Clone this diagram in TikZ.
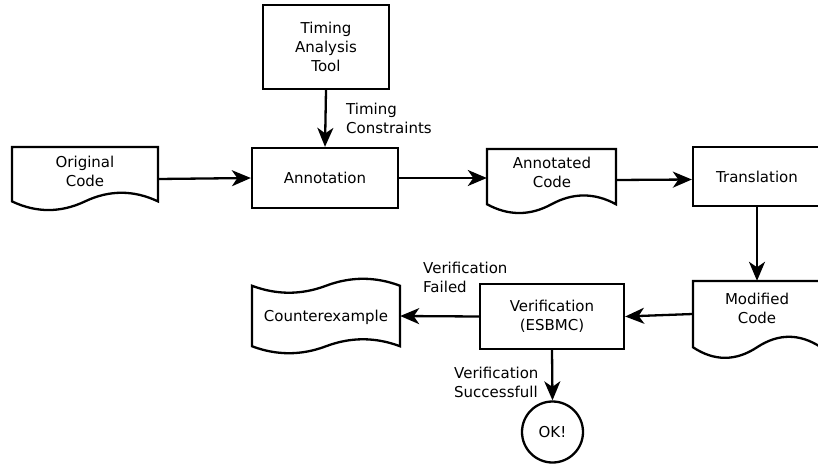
\documentclass[tikz,border=0pt]{standalone}
\usepackage{fontspec}
\setmainfont{DejaVu Sans}
\usetikzlibrary{arrows.meta,calc}
\tikzset{
 shp/.style={draw=black, line width=2.3pt, fill=white, line join=miter},
 boxnode/.style={shp, rectangle, inner sep=0pt, align=center, font=\fontsize{15}{19}\selectfont},
 outline/.style={rectangle, draw=none, inner sep=0pt},
 txt/.style={inner sep=0pt, align=center, font=\fontsize{15}{19}\selectfont},
 lbl/.style={inner sep=0pt, align=left, anchor=west, font=\fontsize{15}{19}\selectfont},
 arr/.style={line width=2.3pt, -{Stealth[length=19pt,width=16pt,inset=5.5pt]}},
}
% document shape: x0 y0 w h (dy = 0.3h)
\newcommand\docpath[4]{%
 \draw[shp] (#1,#2) -- ({#1+#3},#2) -- ({#1+#3},{#2+0.85*#4})
   .. controls ({#1+5*#3/6},{#2+0.67*#4}) and ({#1+2*#3/3},{#2+0.67*#4}) .. ({#1+#3/2},{#2+0.85*#4})
   .. controls ({#1+#3/3},{#2+1.03*#4}) and ({#1+#3/6},{#2+1.03*#4}) .. (#1,{#2+0.85*#4}) -- cycle;}
% tape shape: x0 y0 w h dy
\newcommand\tapepath[5]{%
 \draw[shp] (#1,{#2+#5/2})
   .. controls ({#1+#3/6},{#2+1.1*#5}) and ({#1+#3/3},{#2+1.1*#5}) .. ({#1+#3/2},{#2+#5/2})
   .. controls ({#1+2*#3/3},{#2-0.1*#5}) and ({#1+5*#3/6},{#2-0.1*#5}) .. ({#1+#3},{#2+#5/2})
   -- ({#1+#3},{#2+#4-#5/2})
   .. controls ({#1+5*#3/6},{#2+#4-1.1*#5}) and ({#1+2*#3/3},{#2+#4-1.1*#5}) .. ({#1+#3/2},{#2+#4-#5/2})
   .. controls ({#1+#3/3},{#2+#4+0.1*#5}) and ({#1+#3/6},{#2+#4+0.1*#5}) .. (#1,{#2+#4-#5/2}) -- cycle;}
\begin{document}
\begin{tikzpicture}[x=1pt,y=-1pt]
\clip (0,0) rectangle (818,465);
\fill[white] (0,0) rectangle (818,465);

% rectangles
\node[boxnode, minimum width=126pt, minimum height=84pt] (timing) at (326,47) {Timing\\Analysis\\Tool};
\node[boxnode, minimum width=146pt, minimum height=60pt] (annot) at (325,178) {Annotation};
\node[boxnode, minimum width=128pt, minimum height=59pt] (trans) at (757,176.5) {Translation};
\node[boxnode, minimum width=144pt, minimum height=65pt] (verif) at (552,316.5) {Verification\\(ESBMC)};
\node[shp, circle, minimum size=61pt, inner sep=0pt, font=\fontsize{15}{19}\selectfont] (ok) at (552.5,432) {OK!};

% documents
\node[outline, minimum width=146pt, minimum height=64pt] (orig) at (85,179) {};
\docpath{12}{147}{146}{64}
\node[txt] (origtxt) at (85,171) {Original\\Code};

\node[outline, minimum width=129pt, minimum height=65pt] (acode) at (551.5,181.5) {};
\docpath{487}{149}{129}{65}
\node[txt] (acodetxt) at (552,172.5) {Annotated\\Code};

\node[outline, minimum width=128pt, minimum height=78pt] (mod) at (757,320) {};
\docpath{693}{281}{128}{78}
\node[txt] (modtxt) at (757,308.5) {Modified\\Code};

% tape
\node[outline, minimum width=148pt, minimum height=76pt] (counter) at (326,316) {};
\tapepath{252}{278}{148}{76}{15.5}
\node[txt] (countertxt) at (326,317) {Counterexample};

% connectors
\draw[arr] (timing.south) -- (annot.north);
\draw[arr] (orig.east) -- (annot.west);
\draw[arr] (annot.east) -- (annot.east -| acode.west);
\draw[arr] ($(acode.east)+(0,-1.5)$) -- ($(trans.west)+(0,3)$);
\draw[arr] (trans.south) -- (mod.north);
\draw[arr] ($(mod.west)+(0,-6)$) -- (verif.east);
\draw[arr] (verif.west) -- (counter.east);
\draw[arr] (verif.south) -- (ok.north);

% labels
\node[lbl] (lc) at (346,118) {Timing\\Constraints};
\node[lbl] (lf) at (423,277.5) {Verification\\Failed};
\node[lbl] (ls) at (454,382) {Verification\\Successfull};
\end{tikzpicture}
\end{document}
